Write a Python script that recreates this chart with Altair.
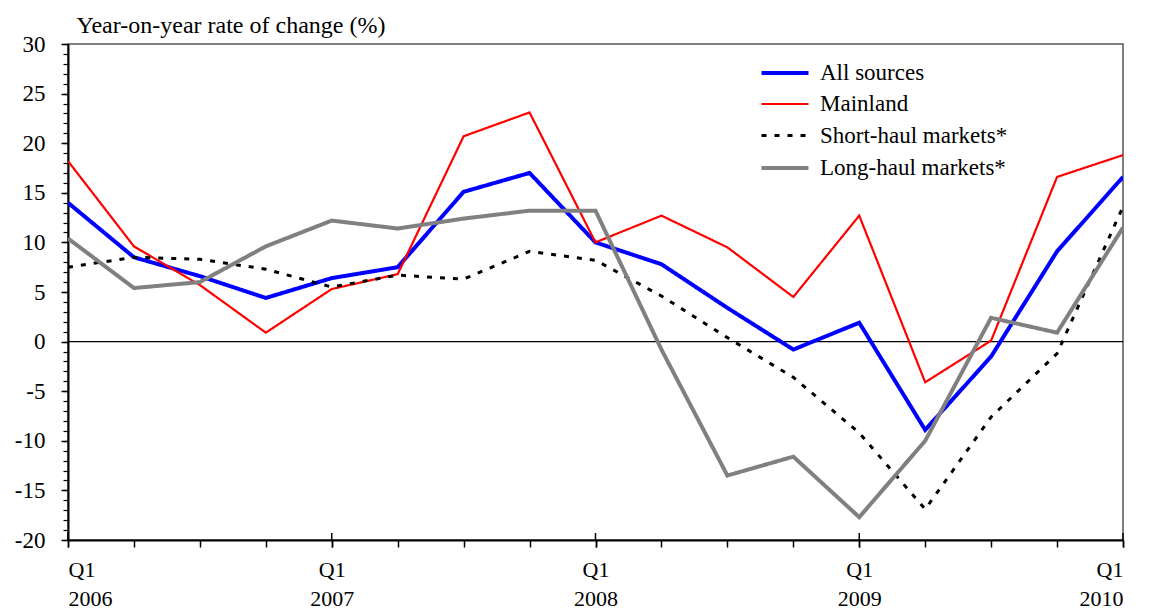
import altair as alt
import pandas as pd

# Quarter index 0 = Q1 2006 ... 16 = Q1 2010
quarters = list(range(17))
all_sources = [14.0, 8.5, 6.6, 4.4, 6.4, 7.5, 15.1, 17.0, 10.0, 7.8, 3.4, -0.8, 1.9, -8.9, -1.5, 9.1, 16.6]
mainland = [18.2, 9.6, 5.7, 0.9, 5.3, 6.8, 20.7, 23.1, 10.0, 12.7, 9.5, 4.5, 12.7, -4.1, 0.1, 16.6, 18.8]
short_haul = [7.5, 8.5, 8.3, 7.3, 5.5, 6.7, 6.3, 9.1, 8.2, 4.6, 0.4, -3.6, -9.2, -16.9, -7.6, -1.2, 13.6]
long_haul = [10.4, 5.4, 6.0, 9.6, 12.2, 11.4, 12.4, 13.2, 13.2, -0.8, -13.5, -11.6, -17.7, -10.0, 2.4, 0.9, 11.5]

series_names = ["All sources", "Mainland", "Short-haul markets*", "Long-haul markets*"]
series_colors = ["#0000ff", "#ff0000", "#000000", "#808080"]
series_widths = [4, 2.2, 3, 4]
series_dashes = [[1, 0], [1, 0], [5, 8], [1, 0]]

q1_positions = [0, 4, 8, 12, 16]
major_y = [-20, -15, -10, -5, 0, 5, 10, 15, 20, 25, 30]
minor_y = list(range(-20, 31))

rows = []
for name, vals in zip(series_names, [all_sources, mainland, short_haul, long_haul]):
    for q, v in zip(quarters, vals):
        rows.append({"q": q, "value": v, "series": name})
df = pd.DataFrame(rows)

FONT = "Liberation Serif"
W, H = 1055, 496

xscale = alt.Scale(domain=[0, 16], nice=False, zero=False)
yscale = alt.Scale(domain=[-20, 30], nice=False)

lines = alt.Chart(df).mark_line(clip=True).encode(
    x=alt.X("q:Q", scale=xscale,
            axis=alt.Axis(values=q1_positions, title=None, grid=False, orient="bottom",
                          labelExpr="['Q1', '' + (2006 + datum.value / 4)]",
                          labelFont=FONT, labelFontSize=22, labelColor="black",
                          labelLineHeight=29, labelPadding=12, tickSize=7,
                          tickColor="black", domainColor="black", domainWidth=2,
                          tickWidth=1.5, labelBaseline="top")),
    y=alt.Y("value:Q", scale=yscale,
            axis=alt.Axis(values=major_y, title="Year-on-year rate of change (%)", orient="left",
                          labelExpr="'' + datum.value",
                          titleAngle=0, titleAlign="left", titleX=8, titleY=-12,
                          titleFont=FONT, titleFontSize=24, titleFontWeight="normal",
                          titleColor="black", titleBaseline="alphabetic",
                          labelFont=FONT, labelFontSize=23, labelColor="black",
                          labelPadding=16, tickSize=7, tickColor="black", tickWidth=1.5,
                          domainColor="black", domainWidth=2, grid=False)),
    color=alt.Color("series:N", sort=series_names,
                    scale=alt.Scale(domain=series_names, range=series_colors),
                    legend=alt.Legend(title=None, orient="none", legendX=703, legendY=15,
                                      symbolType="M-2,0H2", symbolSize=552,
                                      labelFont=FONT, labelFontSize=23, labelColor="black",
                                      rowPadding=6, labelOffset=21, labelLimit=400,
                                      padding=0)),
    strokeWidth=alt.StrokeWidth("series:N", sort=series_names,
                                scale=alt.Scale(type="ordinal", domain=series_names, range=series_widths)),
    strokeDash=alt.StrokeDash("series:N", sort=series_names,
                              scale=alt.Scale(domain=series_names, range=series_dashes)),
)

zero_df = pd.DataFrame({"y": [0]})
zero_rule = alt.Chart(zero_df).mark_rule(color="black", strokeWidth=1.2).encode(
    y=alt.Y("y:Q", scale=yscale,
            axis=alt.Axis(values=minor_y, labels=False, title=None, domain=False,
                          tickSize=5, tickColor="black", tickWidth=1.2, grid=False,
                          orient="left")),
    x=alt.value(0), x2=alt.value(W),
)

qt_df = pd.DataFrame({"q": quarters})
quarter_ticks = alt.Chart(qt_df).mark_rule(opacity=0).encode(
    x=alt.X("q:Q", scale=xscale,
            axis=alt.Axis(values=quarters, labels=False, title=None, domain=False,
                          tickSize=7, tickColor="black", tickWidth=1.5, grid=False,
                          orient="bottom")),
    y=alt.value(H), y2=alt.value(H),
)

q1_df = pd.DataFrame({"q": q1_positions})
q1_up = alt.Chart(q1_df).mark_rule(color="black", strokeWidth=1.5).encode(
    x=alt.X("q:Q", scale=xscale, axis=None),
    y=alt.value(H - 7), y2=alt.value(H),
)

chart = alt.layer(quarter_ticks, zero_rule, lines, q1_up).resolve_axis(
    x="independent", y="independent"
).properties(
    width=W, height=H,
    autosize=alt.AutoSizeParams(type="none"),
    padding={"left": 60, "top": 36, "right": 18, "bottom": 70},
).configure_view(stroke="#555555", strokeWidth=1.5)

chart.save("out.html", embed_options={"renderer": "svg", "actions": False})
